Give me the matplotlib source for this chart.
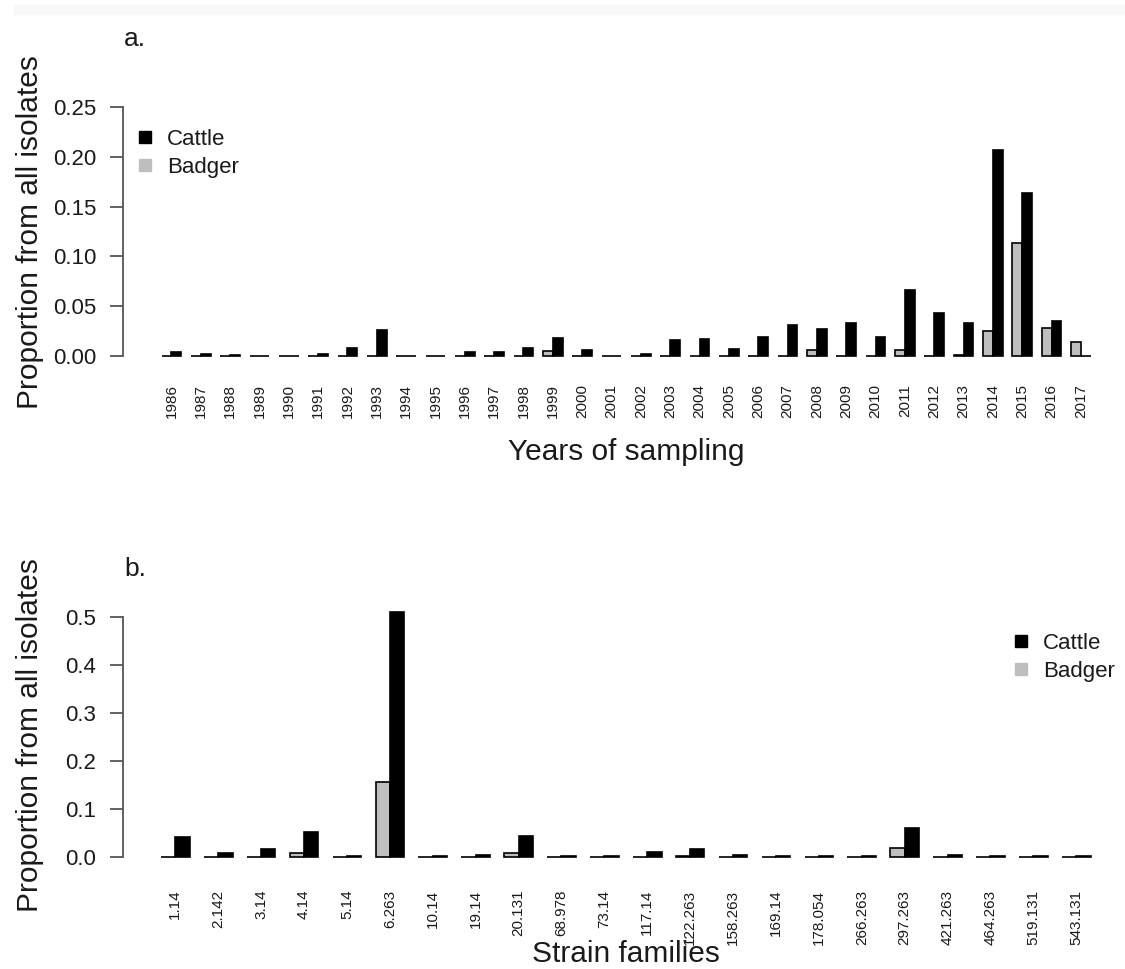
import matplotlib
matplotlib.use("Agg")
import matplotlib.pyplot as plt
from matplotlib.lines import Line2D
from matplotlib.patches import Rectangle
import numpy as np

plt.rcParams['font.family'] = ['Liberation Sans', 'DejaVu Sans']

# ---- data: proportion of isolates by year ----
years = [str(y) for y in range(1986, 2018)]
cattle_year = [0.004, 0.0025, 0.001, 0.0005, 0.0005, 0.002, 0.0077, 0.026,
               0.0005, 0.0005, 0.004, 0.004, 0.0077, 0.0178, 0.006, 0.0005,
               0.0025, 0.0157, 0.0174, 0.0074, 0.0188, 0.0315, 0.0268, 0.0335,
               0.0188, 0.0663, 0.0435, 0.0335, 0.2065, 0.164, 0.0354, 0.0]
badger_year = [0, 0, 0, 0, 0, 0, 0, 0,
               0, 0, 0, 0, 0, 0.005, 0, 0,
               0, 0, 0, 0, 0, 0, 0.0057, 0,
               0, 0.0057, 0, 0.001, 0.0251, 0.113, 0.0284, 0.0138]

# ---- data: proportion of isolates by strain family ----
families = ['1.14', '2.142', '3.14', '4.14', '5.14', '6.263', '10.14', '19.14',
            '20.131', '68.978', '73.14', '117.14', '122.263', '158.263',
            '169.14', '178.054', '266.263', '297.263', '421.263', '464.263',
            '519.131', '543.131']
cattle_fam = [0.0417, 0.0083, 0.0173, 0.0533, 0.003, 0.510, 0.002, 0.004,
              0.045, 0.002, 0.002, 0.0117, 0.0173, 0.004, 0.002, 0.003,
              0.003, 0.0604, 0.005, 0.002, 0.002, 0.002]
badger_fam = [0, 0, 0, 0.0097, 0, 0.1575, 0, 0,
              0.009, 0, 0, 0, 0.003, 0, 0, 0,
              0, 0.02, 0, 0, 0, 0]

W, H = 1125, 969
fig = plt.figure(figsize=(W / 100, H / 100), dpi=100)


def box(left, right, top, bottom):
    return [left / W, 1 - bottom / H, (right - left) / W, (bottom - top) / H]


AXIS_COL = '#555555'
TEXT_COL = '#1a1a1a'
BADGER_COL = '#bebebe'


def panel(rect, labels, badger, cattle, xlim, ylim, yticks, yticklabels,
          label_pad):
    ax = fig.add_axes(rect)
    centers = 3 * np.arange(len(labels)) + 2
    ax.bar(centers - 0.5, badger, width=1, color=BADGER_COL,
           edgecolor='black', linewidth=1.2)
    ax.bar(centers + 0.5, cattle, width=1, color='black',
           edgecolor='black', linewidth=1.2)
    ax.set_xlim(*xlim)
    ax.set_ylim(*ylim)
    for s in ('top', 'right', 'bottom'):
        ax.spines[s].set_visible(False)
    ax.spines['left'].set_bounds(yticks[0], yticks[-1])
    ax.spines['left'].set_color(AXIS_COL)
    ax.spines['left'].set_linewidth(1.3)
    ax.set_yticks(yticks)
    ax.set_yticklabels(yticklabels)
    ax.tick_params(axis='y', length=9.5, width=1.3, color=AXIS_COL,
                   labelsize=16, pad=10, labelcolor=TEXT_COL)
    ax.set_xticks(centers)
    ax.set_xticklabels(labels, rotation=90, fontsize=11, color=TEXT_COL)
    ax.tick_params(axis='x', length=0, pad=label_pad)
    ax.patch.set_alpha(0)
    return ax


def legend(ax, loc_px):
    handles = [Line2D([], [], marker='s', ls='', color='black',
                      markersize=9),
               Line2D([], [], marker='s', ls='', color=BADGER_COL,
                      markersize=9)]
    ax.legend(handles, ['Cattle', 'Badger'], frameon=False, fontsize=16,
              loc='upper left', labelcolor=TEXT_COL,
              bbox_to_anchor=(loc_px[0] / W, 1 - loc_px[1] / H),
              bbox_transform=fig.transFigure, handlelength=0.8,
              handletextpad=0.6, labelspacing=0.3, borderpad=0,
              borderaxespad=0)


# panel a
ax_a = panel(box(123.3, 1110, 97, 366), years, badger_year, cattle_year,
             (-2.92, 97.97), (-0.01004, 0.26004),
             [0, 0.05, 0.10, 0.15, 0.20, 0.25],
             ['0.00', '0.05', '0.10', '0.15', '0.20', '0.25'], 13)
legend(ax_a, (136, 129))
fig.text(30 / W, 1 - 232 / H, 'Proportion from all isolates', rotation=90,
         ha='center', va='center', fontsize=21.5, color=TEXT_COL)
fig.text(626 / W, 1 - 452 / H, 'Years of sampling', ha='center',
         va='center', fontsize=21.5, color=TEXT_COL)
fig.text(124 / W, 1 - 39 / H, 'a.', ha='left', va='center', fontsize=19,
         color=TEXT_COL)

# panel b
ax_b = panel(box(123.3, 1110, 600, 867.3), families, badger_fam, cattle_fam,
             (-1.64, 67.36), (-0.02083, 0.536),
             [0, 0.1, 0.2, 0.3, 0.4, 0.5],
             ['0.0', '0.1', '0.2', '0.3', '0.4', '0.5'], 16)
legend(ax_b, (1012, 633))
fig.text(30 / W, 1 - 735 / H, 'Proportion from all isolates', rotation=90,
         ha='center', va='center', fontsize=21.5, color=TEXT_COL)
fig.text(626 / W, 1 - 954 / H, 'Strain families', ha='center',
         va='center', fontsize=21.5, color=TEXT_COL)
fig.text(124 / W, 1 - 569 / H, 'b.', ha='left', va='center', fontsize=19,
         color=TEXT_COL)

# faint band along the top edge
fig.patches.append(Rectangle((14 / W, 1 - 14 / H), 1 - 14 / W, 9 / H,
                             transform=fig.transFigure, color='#f8f8f8',
                             zorder=0))

fig.savefig('out.png', dpi=100)
